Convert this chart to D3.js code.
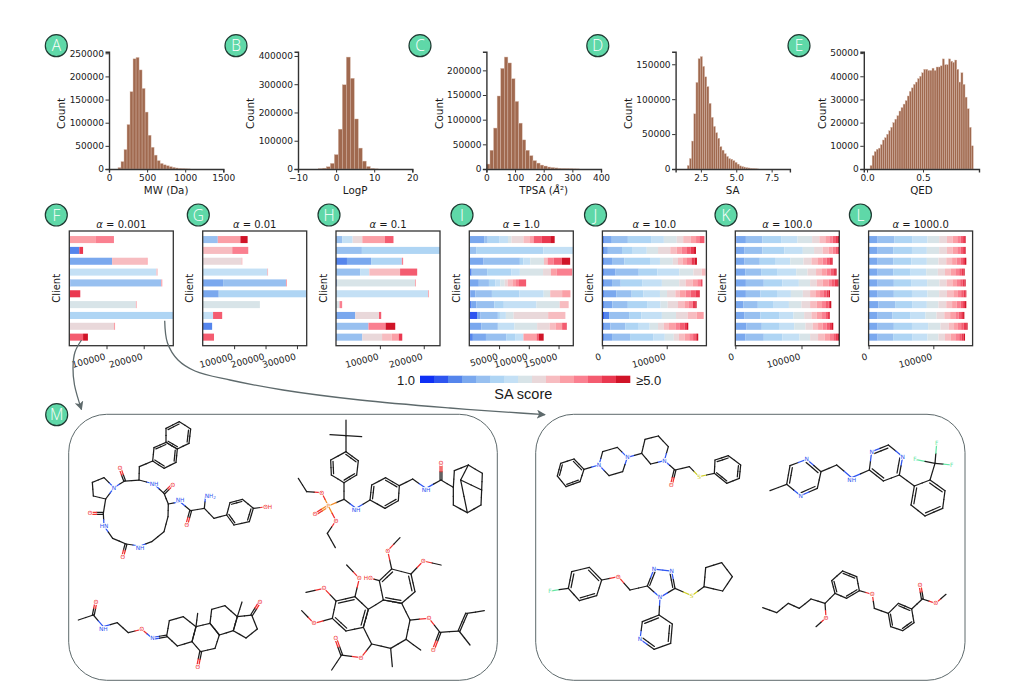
<!DOCTYPE html>
<html><head><meta charset="utf-8">
<script src="https://cdn.jsdelivr.net/npm/d3@7"></script>
<style>
html,body{margin:0;padding:0;background:#fff}
svg{display:block}
text{font-family:"DejaVu Sans",sans-serif;fill:#1a1a1a}
</style></head><body>
<svg id="c" width="1013" height="700"></svg>
<script>
// ---------- histogram data (counts per bin) ----------
const mwCounts=[3000,16000,42000,96000,167000,238000,241000,214000,174000,123000,73000,47000,30000,18000,12000,9000,7000,5000,3500,2200,1200,700,400,200];
const logpCounts=[1000,3000,8000,20000,51000,141000,298000,396000,321000,177000,74000,28000,9000,2000,500];
const tpsaCounts=[10000,38000,83000,148000,204000,227000,215000,183000,137000,93000,59000,38000,27000,17000,12000,8000,6000,4000,3000,2200,1500,1000,800,500,300,200];
const saCounts=[5000,15000,40000,79000,124000,158000,161000,147000,132000,118000,94000,74000,61000,52000,44000,32000,27000,22000,18000,15000,14000,12000,9500,7000,4500,3500,2800,2000,1500,1000,700,400,200];
const qedCounts=[1500,5800,7500,8500,9000,10500,12500,13500,15000,16500,18000,20000,21500,23000,25000,26500,28000,29500,31500,33500,35000,36500,37500,39000,40000,41500,43000,43000,42500,42500,43500,42500,44000,44000,44500,47500,45000,45000,47500,46500,46000,47000,43000,37500,41500,36500,31000,26000,18000,10000];

const histPanels=[
 {key:"A",label:"MW (Da)",counts:mwCounts,bin0:118,binW:39.5,xd:[0,1500],xt:[0,500,1000,1500],yMax:253400,yt:[0,50000,100000,150000,200000,250000],sp:109,r:223.3,lab:-47.3,bx:56.3},
 {key:"B",label:"LogP",counts:logpCounts,bin0:-4.67,binW:1.05,xd:[-10,20],xt:[-10,0,10,20],yMax:415000,yt:[0,100000,200000,300000,400000],sp:298,r:412.3,lab:-48,bx:236},
 {key:"C",label:"TPSA",counts:tpsaCounts,bin0:0,binW:12.5,xd:[0,400],xt:[0,100,200,300,400],yMax:237800,yt:[0,50000,100000,150000,200000],sp:486.4,r:601,lab:-47,bx:420},
 {key:"D",label:"SA",counts:saCounts,bin0:1.54,binW:0.153,xd:[0.715,8.79],xt:[2.5,5,7.5],yMax:168000,yt:[0,50000,100000,150000],sp:675.6,r:789.9,lab:-47.5,bx:597.8},
 {key:"E",label:"QED",counts:qedCounts,bin0:0.027,binW:0.01844,xd:[-0.029,1.0],xt:[0,0.5],yMax:50600,yt:[0,10000,20000,30000,40000,50000],sp:863.8,r:979,lab:-41.5,bx:799}
];

// ---------- client stacked bars: {SA-bin: count in thousands} per client ----------
const saColors=["#0f30f5","#2e55f0","#5585ec","#7aa8ee","#98c0f0","#afd5f4","#c4e0f5","#d8e4e8","#e9d8da","#f7bcc0","#fb9fa6","#fa8090","#f45c70","#ea3850","#d01428"];
const clientsF=[{10:70,11:50},{2:27,13:10},{3:115,9:92,10:3.5},{6:234,9:3.5},{2:3,4:244,10:3},{13:28,9:1.5},{7:179,10:2},{5:280},{8:120,10:3},{12:37,14:13}];
const clientsG=[{4:48,10:72,14:23},{9:94,11:51},{8:124,10:2},{6:206,10:2},{3:65,4:200,10:3},{3:51,5:281},{7:182},{6:33,12:29},{2:30},{12:36}];
const clientsH=[{4:14,6:24,8:22,10:51,12:20},{4:59,5:178},{2:25,3:55,5:70,11:3},{4:55,6:21,9:70,12:39},{3:2,7:178,10:2},{5:2,6:208,10:2},{7:8,11:6},{3:44,8:54,12:5},{4:74,11:39,14:22},{3:2,4:58,8:45,9:22,10:16,13:8}];
const clientsI=[{3:25,4:6,5:20,6:14,7:6,8:20,9:10,10:7,12:14,13:14,14:7.5},{4:11.5,5:113,6:56},{3:24,4:61,5:6,6:11.5,7:23,9:6,11:10,12:14,14:14},{2:4,4:26,5:41,6:14,7:39,8:13,10:10,11:26},{3:16,4:17,5:11,6:8,7:7.5,8:5,9:8,10:6,11:5,12:12},{2:2,3:8,4:28,5:46,6:41,7:11,9:20,10:14},{2:4,3:8,4:30,5:16,6:55,7:39,9:15},{1:13,3:6,4:29,5:3.5,6:10,7:13,8:58,9:29},{3:20,4:28,6:28,7:38,8:21,9:10,10:11,12:7,13:1},{2:6,3:22,4:34,5:15,6:14,10:22,12:4,14:8}];
const clientsJ=[{2:3.6,3:11,4:25,5:37,6:19,7:20,8:10,9:12,10:8,11:5,12:8},{2:2.5,3:6,4:22,5:15.5,6:23,7:17.5,8:19,9:10,10:8,11:8,12:6,13:5,14:3},{2:2.5,3:12.5,4:19,5:40,6:15.5,7:20,8:8,9:7,10:7,11:7,13:5,14:3.5},{2:2.5,3:18,4:36,5:29,6:34,7:22,8:13,9:6},{2:2.5,3:12.5,4:13.5,5:34,6:30,7:27,8:10,9:11,10:7,11:6,13:2},{2:2.5,3:19,4:24,5:18,6:26,7:11,8:13,9:7,10:9,11:8,12:7,13:7},{2:2.5,3:13,4:24,5:30,6:21,7:11,8:16,9:10,10:7,11:6,13:4,14:2},{1:2.5,2:8,4:31,5:19,6:32,7:22,8:18,9:14,10:11},{2:2.5,3:10,4:23,5:21,6:17,7:13,8:9,9:8,10:10,11:7,12:7,13:4,14:2},{2:2.5,3:12.5,4:28,5:36,6:18,7:14,8:8,9:9,10:7,11:6,12:5,14:3}];
const clientsK=[[0,0,2,14,25,29,24,22,11,9,6,5,4,4,2],[0,0,0,14,27,33,28,17,13,9,6,5,3,2,0],[0,0,0,14,23,23,23,20,12,9,8,6,4,4,1],[0,0,0,15,24,25,28,17,13,9,7,6,4,3,2],[0,0,0,16,27,28,25,17,10,9,9,5,4,4,2],[0,0,0,16,22,25,21,18,11,8,7,5,5,3,2],[0,0,0,12,22,24,23,19,13,10,8,6,4,2,2],[0,0,0,14,24,29,21,16,11,8,8,5,4,2,1],[0,0,0,17,23,26,23,17,11,8,7,6,4,4,2],[0,0,0,15,28,28,26,16,12,10,8,5,4,3,2]];
const clientsL=[[0,0,0,14,26,28,23,18,12,9,7,5,4,3,1],[0,0,0,14,24,29,23,19,12,9,7,5,4,3,1],[0,0,0,14,24,28,24,18,12,9,7,6,4,3,2],[0,0,0,14,24,27,24,18,11,9,7,6,4,3,1.5],[0,0,0,14,25,27.5,24,19,11,9,7,5,4,3,1.5],[0,0,0,14,25,28,24,18,12,10,7,5,4,3,1],[0,0,0,15,26,27,22,18,12,9,7,6,4,3,2],[0,0,0,14,23,28,23,17,12,9,8,5,4,3,2],[0,0,0,14,25,28,25,19,13,8,6,5,4,4,2],[0,0,0,14,24,30,23,17,10,9,7,6,4,3,2]];

const barPanels=[
 {key:"F",alpha:"0.001",rows:clientsF,xMax:279500,xt:[100000,200000],l:69.3,bx:56.3},
 {key:"G",alpha:"0.01",rows:clientsG,xMax:331000,xt:[100000,200000,300000],l:202.7,bx:198.3},
 {key:"H",alpha:"0.1",rows:clientsH,xMax:237000,xt:[100000,200000],l:336,bx:329},
 {key:"I",alpha:"1.0",rows:clientsI,xMax:174800,xt:[50000,100000,150000],l:469.3,bx:462},
 {key:"J",alpha:"10.0",rows:clientsJ,xMax:161700,xt:[0,100000],l:602.4,bx:595.5},
 {key:"K",alpha:"100.0",rows:clientsK,xMax:157100,xt:[0,100000],l:735.3,bx:726},
 {key:"L",alpha:"1000.0",rows:clientsL,xMax:160700,xt:[0,100000],l:868.6,bx:860.4}
];

// ---------- molecule sketches, read in crop units of the two boxes ----------
const molLeft=[
 {rings:[{p:[[378,85],[418,65],[452,87],[447,130],[412,147],[378,127]],d:[0,2,4]},
         {p:[[378,127],[412,147],[408,187],[372,205],[338,183],[342,143]],d:[1,3,5]},
         {p:[[222,263],[192,233],[157,247],[160,288],[197,297]],d:[]},
         {p:[[560,345],[582,375],[628,365],[640,325],[607,298],[570,308]],d:[0,2,4]}],
  bonds:[[[338,183],[298,200],[297,240],[254,243],[222,263]],
         [[197,297],[190,340],[192,378],[218,415],[258,432],[300,438],[335,425],[372,395],[384,350],[385,312],[372,280],[342,252],[297,240]],
         [[385,312],[420,305],[452,332],[493,325],[522,355],[560,345]],[[493,325],[497,285]],[[640,325],[683,320]]],
  dbl:[[254,243,240,205],[190,340,150,340],[258,432,248,470],[372,280,398,254],[452,332,440,375]],
  atoms:[[240,205,"O","O"],[222,263,"N","N"],[150,340,"O","O"],[192,378,"HN","N"],[248,470,"O","O"],[300,438,"NH","N",0,6],[342,252,"NH","N"],[398,254,"O","O"],[420,305,"NH","N",0,-6],[440,375,"O","O"],[497,285,"NH2","N",14,2],[683,320,"OH","O"]]},
 {rings:[{p:[[918,155],[955,182],[950,225],[912,248],[874,225],[872,180]],d:[0,2,4]},
         {p:[[990,300],[995,255],[1037,233],[1078,257],[1075,302],[1035,325]],d:[0,2,4]}],
  bonds:[[[918,60],[918,155]],[[870,104],[965,110]],[[912,248],[912,298],[948,325],[990,300]],[[912,298],[865,318],[845,278],[800,275],[775,235]],[[865,318],[888,362],[862,400],[886,443]],
         [[1078,257],[1118,237],[1158,265],[1203,240],[1240,262],[1243,212],[1285,195],[1327,220],[1325,270],[1323,315],[1282,338],[1240,315],[1240,262]],[[1285,195],[1262,240],[1325,270]],[[1262,240],[1282,338]]],
  dbl:[[865,318,825,343],[1203,240,1203,190]],
  atoms:[[948,325,"NH","N",0,6],[865,318,"P","P"],[845,278,"O","O"],[825,343,"O","O"],[888,362,"O","O"],[1158,265,"NH","N",0,6],[1203,190,"O","O"]]},
 {rings:[{p:[[380,708],[388,662],[430,650],[468,680],[456,725],[412,738]],d:[]},
         {p:[[468,680],[510,670],[538,705],[525,745],[482,755],[456,725]],d:[]},
         {p:[[510,670],[515,628],[555,617],[592,650],[580,692],[538,705]],d:[]},
         {p:[[592,650],[635,645],[652,687],[618,714],[580,692]],d:[]}],
  bonds:[[[115,660],[160,645],[190,680],[232,668],[265,698],[305,688],[337,715]],[[468,680],[473,640]],[[592,650],[606,606]]],
  dbl:[[160,645,168,605],[337,715,380,708],[482,755,473,800],[635,645,660,605]],
  atoms:[[168,605,"O","O"],[190,680,"NH","N",0,6],[305,688,"O","O"],[337,715,"N","N"],[473,800,"O","O"],[660,605,"O","O"]]},
 {rings:[{p:[[1018,542],[1055,507],[1113,522],[1125,575],[1085,610],[1030,600]],d:[0,2,4]},
         {p:[[985,628],[945,590],[888,603],[877,655],[918,693],[970,682]],d:[1,3,5]},
         {p:[[1030,600],[985,628],[970,682],[995,732],[1052,745],[1098,718],[1110,660],[1085,610]],d:[]}],
  bonds:[[[1055,507],[1043,452],[1080,413]],[[1113,522],[1150,483],[1203,495]],[[1018,542],[985,533]],[[945,590],[958,535],[920,495]],[[888,603],[852,565],[798,577]],[[877,655],[822,670],[785,632]],
         [[1110,660],[1167,655],[1200,697],[1257,693],[1290,735]],[[1280,640],[1333,632]],[[1098,718],[1142,750]],[[1052,745],[1057,800]],[[995,732],[963,773],[905,765],[875,810]]],
  dbl:[[1200,697,1180,750],[1257,693,1280,640],[905,765,887,715]],
  atoms:[[1043,452,"O","O"],[1150,483,"O","O"],[985,533,"HO","O"],[958,535,"O","O"],[852,565,"O","O"],[822,670,"O","O"],[1167,655,"O","O"],[1180,750,"O","O"],[963,773,"O","O"],[887,715,"O","O"]]}
];
const molRight=[
 {rings:[{p:[[132,177],[162,208],[150,245],[108,260],[82,228],[92,190]],d:[0,2,4]},
         {p:[[207,195],[218,155],[262,142],[292,172],[278,215],[237,227]],d:[]},
         {p:[[335,160],[345,118],[385,108],[415,140],[403,182],[362,192]],d:[]},
         {p:[[553,220],[555,180],[595,167],[632,195],[628,235],[590,250]],d:[1,3,5]}],
  bonds:[[[162,208],[207,195]],[[292,172],[335,160]],[[403,182],[435,210],[478,200],[507,230],[553,220]]],
  dbl:[[435,210,424,255]],
  atoms:[[207,195,"N","N"],[292,172,"N","N"],[403,182,"N","N"],[424,255,"O","O"],[507,230,"S","S"]]},
 {rings:[{p:[[770,253],[780,197],[830,178],[873,215],[862,265],[812,287]],d:[0,2,4]},
         {p:[[1018,210],[1025,155],[1075,135],[1118,170],[1108,225],[1060,243]],d:[1,3,5]},
         {p:[[1153,258],[1200,240],[1245,272],[1238,325],[1185,348],[1143,315]],d:[1,3,5]}],
  bonds:[[[720,272],[770,253]],[[873,215],[920,195],[965,233],[1018,210]],[[1108,225],[1153,258]],[[1200,240],[1215,190],[1220,130]],[[1155,178],[1215,190],[1265,195]]],
  dbl:[],
  atoms:[[830,178,"N","N"],[812,287,"N","N"],[965,233,"NH","N",0,6],[1025,155,"N","N"],[1118,170,"N","N"],[1220,130,"F","F"],[1155,178,"F","F"],[1265,195,"F","F"]]},
 {rings:[{p:[[115,565],[125,515],[178,502],[215,540],[200,587],[148,602]],d:[0,2,4]},
         {p:[[352,558],[372,507],[425,513],[435,565],[390,592]],d:[0,2]},
         {p:[[522,560],[527,503],[575,488],[607,530],[578,573]],d:[]},
         {p:[[387,645],[427,672],[422,730],[372,748],[330,718],[337,665]],d:[1,3,5]}],
  bonds:[[[60,573],[115,565]],[[215,540],[265,530],[300,570],[352,558]],[[435,565],[485,587],[522,560]],[[390,592],[387,645]]],
  dbl:[],
  atoms:[[60,573,"F","F"],[265,530,"O","O"],[372,507,"N","N"],[425,513,"N","N"],[390,592,"N","N"],[485,587,"S","S"],[330,718,"N","N"]]},
 {rings:[{p:[[915,580],[905,542],[938,513],[980,530],[988,572],[950,595]],d:[0,2,4]},
         {p:[[1075,640],[1105,610],[1145,627],[1152,668],[1118,692],[1082,680]],d:[1,3,5]}],
  bonds:[[[698,623],[740,638],[775,610],[808,625],[843,597],[885,610],[915,580]],[[885,610],[888,653],[858,680]],[[988,572],[1027,583],[1033,625],[1075,640]],[[1145,627],[1177,597],[1217,610],[1248,583]]],
  dbl:[[1177,597,1170,555]],
  atoms:[[888,653,"O","O"],[1027,583,"O","O"],[1170,555,"O","O"],[1217,610,"O","O"]]}
];
const atomColors={O:"#f03030",N:"#2f55f0",F:"#66e6a6",S:"#cccc22",P:"#f28c28"};

const svg=d3.select("#c");
const ink="#141414", spine="#333", grey="#5e6a6c";

// ---------- histograms ----------
const histTop=51.7, histBot=169;
histPanels.forEach(p=>{
  const x=d3.scaleLinear().domain(p.xd).range([p.sp,p.r]);
  const y=d3.scaleLinear().domain([0,p.yMax]).range([histBot,histTop]);
  const g=svg.append("g");
  g.selectAll("rect").data(p.counts).join("rect")
    .attr("x",(d,i)=>x(p.bin0+i*p.binW))
    .attr("width",(d,i)=>x(p.bin0+(i+1)*p.binW)-x(p.bin0+i*p.binW))
    .attr("y",d=>y(d)).attr("height",d=>histBot-y(d))
    .attr("fill","#a0694f").attr("stroke","#d9bcae").attr("stroke-width",0.4);
  const ax=g.append("g").attr("transform",`translate(0,${histBot})`).call(d3.axisBottom(x).tickValues(p.xt).tickSizeOuter(0).tickSize(3.5).tickPadding(2)
     .tickFormat(v=> p.key==="D"||p.key==="E"? d3.format(".1f")(v): String(v).replace("-","\u2212")));
  const ay=g.append("g").attr("transform",`translate(${p.sp},0)`).call(d3.axisLeft(y).tickValues(p.yt).tickSizeOuter(0).tickSize(3.5).tickPadding(1.5).tickFormat(d3.format("d")));
  [ax,ay].forEach(a=>{a.selectAll("path").attr("stroke",spine).attr("stroke-width",1.4);a.selectAll("line").attr("stroke",spine).attr("stroke-width",1);a.selectAll("text").style("font-size","9px").style("font-family","DejaVu Sans").attr("fill",ink);});
  const tx=g.append("text").attr("x",(p.sp+p.r)/2).attr("y",190).attr("dy","0.35em").attr("text-anchor","middle").style("font-size","10.3px");
  if(p.key==="C"){tx.append("tspan").text("TPSA (");tx.append("tspan").attr("font-style","italic").text("\u00C5");tx.append("tspan").text("\u00B2)");}
  else tx.text(p.label);
  g.append("text").attr("transform",`translate(${p.sp+p.lab},${(histTop+histBot)/2+3}) rotate(-90)`).attr("dy","0.35em").attr("text-anchor","middle").style("font-size","10.5px").text("Count");
});

// ---------- stacked client bars ----------
const barTop=231, barBot=345.7, barW=104;
const binKeys=d3.range(15);
const clientIds=d3.range(1,11);
const stackGen=d3.stack().keys(binKeys).value((d,k)=>(d[k]||0)*1000);
barPanels.forEach(p=>{
  const x=d3.scaleLinear().domain([0,p.xMax]).range([p.l,p.l+barW]);
  const y=d3.scaleBand().domain(clientIds).range([barTop,barBot]).paddingInner(0.35).paddingOuter(0.465);
  const g=svg.append("g");
  const layers=stackGen(p.rows);
  const clipId="clip"+p.key;
  g.append("clipPath").attr("id",clipId).append("rect").attr("x",p.l).attr("y",barTop).attr("width",barW).attr("height",barBot-barTop);
  g.append("g").attr("clip-path",`url(#${clipId})`).selectAll("g").data(layers).join("g").attr("fill",l=>saColors[l.key])
    .selectAll("rect").data(l=>l).join("rect")
    .attr("x",d=>x(d[0])).attr("width",d=>x(d[1])-x(d[0]))
    .attr("y",(d,i)=>y(clientIds[i])).attr("height",y.bandwidth());
  g.append("rect").attr("x",p.l).attr("y",barTop).attr("width",barW).attr("height",barBot-barTop).attr("fill","none").attr("stroke",spine).attr("stroke-width",1.3);
  const ax=g.append("g").attr("transform",`translate(0,${barBot})`).call(d3.axisBottom(x).tickValues(p.xt).tickSizeOuter(0).tickSize(3.5).tickFormat(d3.format("d")));
  ax.select("path").remove();
  ax.selectAll("line").attr("stroke",spine).attr("stroke-width",1);
  ax.selectAll("text").attr("text-anchor","end").attr("y",0).attr("dy",0).attr("transform","translate(-1,13.5) rotate(-15)").style("font-size","9px").style("font-family","DejaVu Sans").attr("fill",ink);
  const t=g.append("text").attr("x",p.l+barW/2).attr("y",224).attr("dy","0.35em").attr("text-anchor","middle").style("font-size","10px").style("font-weight","500");
  t.append("tspan").attr("font-style","italic").text("\u03B1");
  t.append("tspan").text(" = "+p.alpha);
  g.append("text").attr("transform",`translate(${p.l-13},${(barTop+barBot)/2}) rotate(-90)`).attr("dy","0.35em").attr("text-anchor","middle").style("font-size","10px").text("Client");
});

// ---------- SA legend ----------
const legendLabels=["1.0","\u22655.0"];
const legendTitle="SA score";
const legX=d3.scaleBand().domain(binKeys).range([420,630]);
svg.append("g").selectAll("rect").data(binKeys).join("rect").attr("x",d=>legX(d)).attr("width",legX.bandwidth()+0.3).attr("y",375.7).attr("height",7.3).attr("fill",d=>saColors[d]);
svg.append("text").attr("x",415).attr("y",380).attr("dy","0.35em").attr("text-anchor","end").style("font-family","Liberation Sans").style("font-size","13px").text(legendLabels[0]);
svg.append("text").attr("x",636).attr("y",380).attr("dy","0.35em").style("font-family","Liberation Sans").style("font-size","13px").text(legendLabels[1]);
svg.append("text").attr("x",523.3).attr("y",394).attr("dy","0.35em").attr("text-anchor","middle").style("font-family","Liberation Sans").style("font-size","14.5px").text(legendTitle);

// ---------- boxes and connectors ----------
svg.append("rect").attr("x",68.7).attr("y",414.3).attr("width",428.6).attr("height",266).attr("rx",38).attr("fill","none").attr("stroke",grey).attr("stroke-width",1);
svg.append("rect").attr("x",535.7).attr("y",414.3).attr("width",429.3).attr("height",266).attr("rx",38).attr("fill","none").attr("stroke",grey).attr("stroke-width",1);
const defs=svg.append("defs");
defs.append("marker").attr("id","ah").attr("viewBox","0 0 10 10").attr("refX",9).attr("refY",5).attr("markerWidth",9).attr("markerHeight",9).attr("markerUnits","userSpaceOnUse").attr("orient","auto")
  .append("path").attr("d","M0,0L10,5L0,10L2.5,5Z").attr("fill",grey);
const connector=d3.line().curve(d3.curveCatmullRom.alpha(0.5));
const arrowA=[[81.5,340],[75,352],[73,368],[74.5,385],[81.5,409.5]];
const arrowB=[[164.7,320.7],[167.5,343],[178,360],[195,371],[230,380],[283,390],[360,400],[450,408],[520,413],[545,414.7]];
[arrowA,arrowB].forEach(a=>svg.append("path").attr("d",connector(a)).attr("fill","none").attr("stroke",grey).attr("stroke-width",1.3).attr("marker-end","url(#ah)"));

// ---------- molecules ----------
function drawMol(m,sx,sy,g){
  const atomAt=(pt)=>m.atoms.find(a=>Math.abs(a[0]-pt[0])<2&&Math.abs(a[1]-pt[1])<2);
  const colOf=(pt)=>{const a=atomAt(pt);return a?atomColors[a[3]]:"#1c1c1c";};
  function seg(a,b,off=[0,0]){
    const mid=[(a[0]+b[0])/2,(a[1]+b[1])/2];
    [[a,mid,colOf(a)],[mid,b,colOf(b)]].forEach(s=>g.append("line")
      .attr("x1",sx(s[0][0]+off[0])).attr("y1",sy(s[0][1]+off[1]))
      .attr("x2",sx(s[1][0]+off[0])).attr("y2",sy(s[1][1]+off[1]))
      .attr("stroke",s[2]).attr("stroke-width",1.25).attr("stroke-linecap","round"));
  }
  m.bonds.forEach(b=>{for(let i=0;i<b.length-1;i++)seg(b[i],b[i+1]);});
  m.rings.forEach(r=>{
    const n=r.p.length, c=[d3.mean(r.p,q=>q[0]),d3.mean(r.p,q=>q[1])];
    r.p.forEach((q,i)=>{
      const e=r.p[(i+1)%n]; seg(q,e);
      if(r.d.includes(i)){
        const k=0.17, sh=t=>[c[0]+(t[0]-c[0])*(1-k),c[1]+(t[1]-c[1])*(1-k)];
        seg(sh(q),sh(e));
      }
    });
  });
  m.dbl.forEach(d=>{
    const a=[d[0],d[1]],b=[d[2],d[3]],dx=b[0]-a[0],dy=b[1]-a[1],L=Math.hypot(dx,dy),o=[-dy/L*2.8,dx/L*2.8];
    seg(a,b,o); seg(a,b,[-o[0],-o[1]]);
  });
  m.atoms.forEach(a=>{
    const tx=sx(a[0]+(a[4]||0)), ty=sy(a[1]+(a[5]||0));
    const t=g.append("text").attr("x",tx).attr("y",ty).attr("dy","0.36em").attr("text-anchor","middle").style("font-size","5.8px").style("fill",atomColors[a[3]]);
    t.attr("stroke","#fff").attr("stroke-width",1.6).attr("paint-order","stroke");
    if(a[2]==="NH2"){t.append("tspan").text("NH");t.append("tspan").attr("dy","1").style("font-size","4.2px").text("2");}
    else t.text(a[2]);
  });
}
const leftX=d3.scaleLinear().domain([0,480]).range([40,200]), leftY=d3.scaleLinear().domain([0,290]).range([400,496.67]);
const rightX=d3.scaleLinear().domain([0,470]).range([530,686.67]), rightY=leftY;
molLeft.forEach(m=>drawMol(m,leftX,leftY,svg.append("g")));
molRight.forEach(m=>drawMol(m,rightX,rightY,svg.append("g")));

// ---------- badges ----------
const badges=[
 ...histPanels.map(p=>({k:p.key,x:p.bx,y:45.7})),
 ...barPanels.map(p=>({k:p.key,x:p.bx,y:215})),
 {k:"M",x:56.7,y:414.7}];
const bg=svg.append("g").selectAll("g").data(badges).join("g").attr("transform",d=>`translate(${d.x},${d.y})`);
bg.append("circle").attr("r",11).attr("fill","#5fd8a8").attr("stroke","#1f3a32").attr("stroke-width",1.2);
bg.append("text").attr("text-anchor","middle").attr("dy","0.36em").style("font-family","Open Sans").style("font-weight","300").style("font-size","15.5px").style("fill","#fff").text(d=>d.k);
</script>
</body></html>
